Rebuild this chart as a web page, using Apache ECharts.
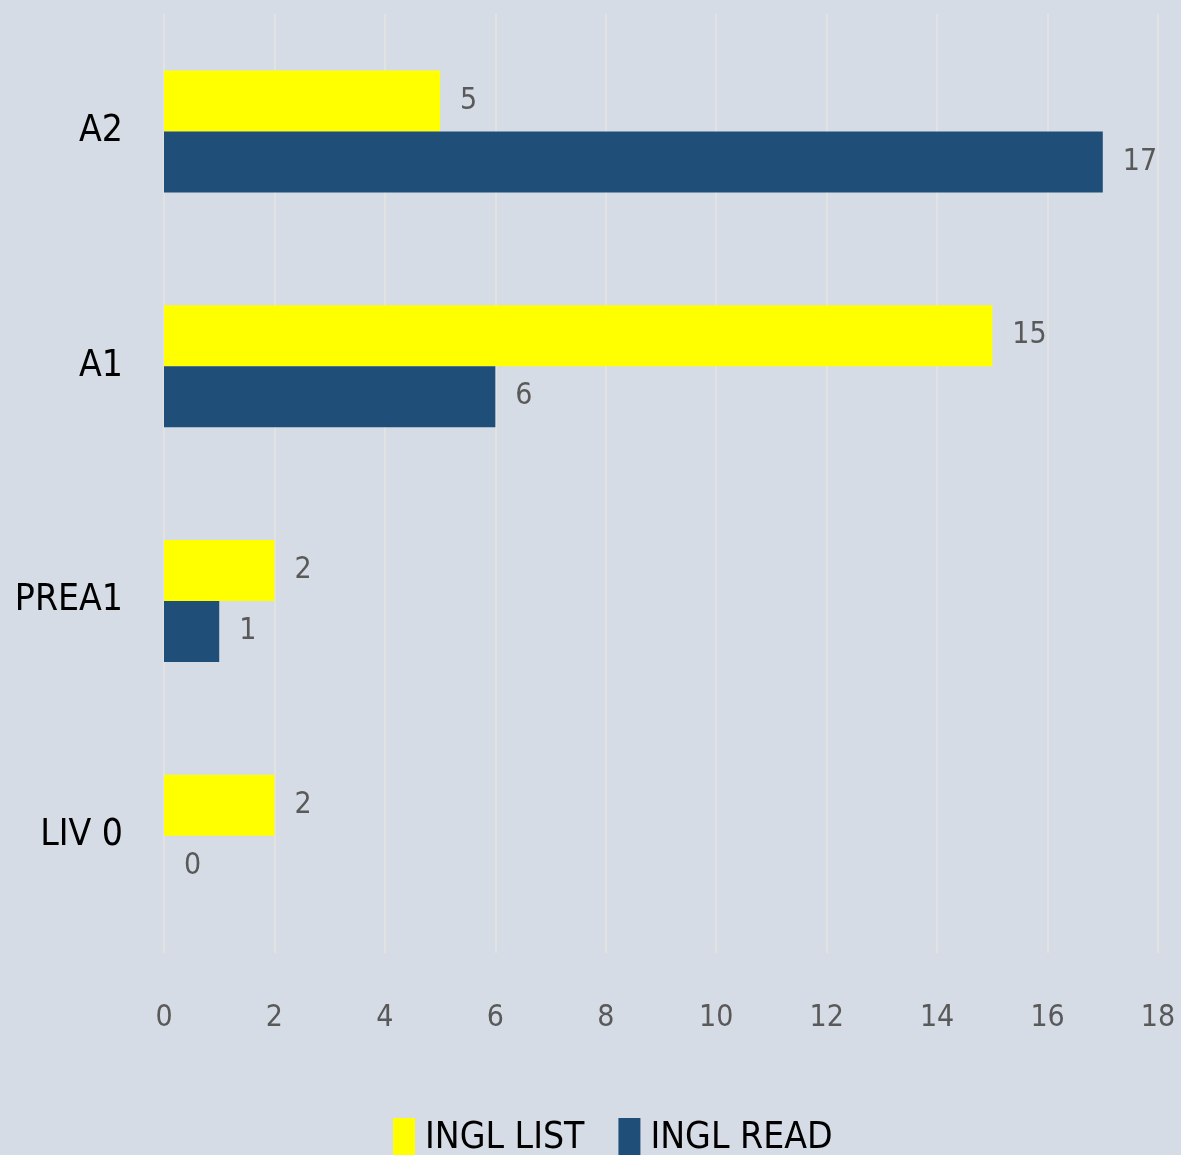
<!DOCTYPE html>
<html>
<head>
<meta charset="utf-8">
<script src="https://cdn.jsdelivr.net/npm/echarts@6/dist/echarts.min.js"></script>
<style>
  html, body { margin: 0; padding: 0; background: #d6dce5; }
  #main { width: 1181px; height: 1155px; }
</style>
</head>
<body>
<div id="main"></div>
<script>
var categories = ["LIV 0", "PREA1", "A1", "A2"];
var inglList = [2, 2, 15, 5];
var inglRead = [0, 1, 6, 17];
var xTicks = { min: 0, max: 18, interval: 2 };

var narrow = "'Liberation Sans Narrow', 'DejaVu Sans Condensed', sans-serif";
var valueLabel = { show: true, position: "right", distance: 20, fontFamily: narrow, fontSize: 30, color: "#595959", padding: [6, 0, 0, 0] };

var myChart = echarts.init(document.getElementById("main"));
myChart.setOption({
  backgroundColor: "#d6dce5",
  animation: false,
  grid: { left: 164, right: 23, top: 14, bottom: 202, outerBoundsMode: "none", containLabel: false },
  legend: {
    data: ["INGL LIST", "INGL READ"],
    left: 393,
    top: 1116,
    padding: 0,
    itemWidth: 22,
    itemHeight: 40,
    itemGap: 34,
    icon: "rect",
    textStyle: { fontFamily: narrow, fontSize: 37, color: "#000", lineHeight: 44, padding: [0, 0, 0, 5] }
  },
  xAxis: {
    type: "value",
    min: xTicks.min,
    max: xTicks.max,
    interval: xTicks.interval,
    axisLine: { show: false },
    axisTick: { show: false },
    axisLabel: { margin: 50, fontFamily: narrow, fontSize: 30, color: "#595959" },
    splitLine: { lineStyle: { color: "#e2e2e2", width: 2 } }
  },
  yAxis: {
    type: "category",
    data: categories,
    axisLine: { show: false },
    axisTick: { show: false },
    axisLabel: { margin: 41, fontFamily: narrow, fontSize: 37, color: "#000" }
  },
  series: [
    {
      name: "INGL LIST",
      type: "bar",
      data: inglList,
      barWidth: 61,
      barGap: "0%",
      itemStyle: { color: "#ffff00" },
      label: valueLabel
    },
    {
      name: "INGL READ",
      type: "bar",
      data: inglRead,
      barWidth: 61,
      barGap: "0%",
      itemStyle: { color: "#1f4e79" },
      label: valueLabel
    }
  ]
});
</script>
</body>
</html>
